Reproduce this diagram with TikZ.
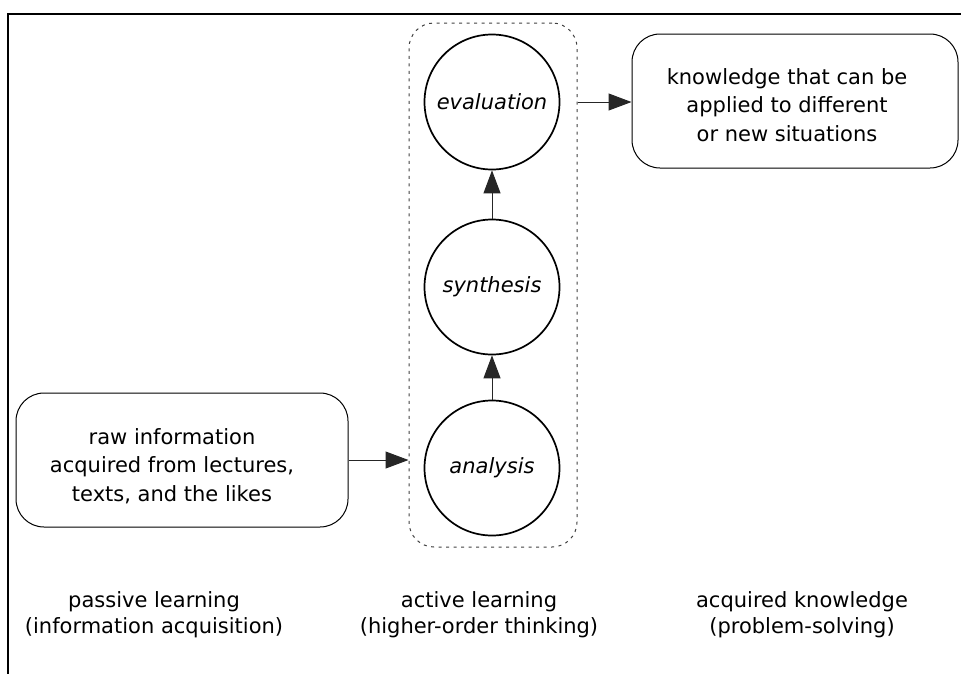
\documentclass[tikz,border=0pt]{standalone}
\usepackage{fontspec}
\setmainfont{DejaVu Sans}
\usetikzlibrary{arrows.meta,shapes.misc}
\tikzset{
  stage/.style={circle, draw, line width=1.7pt, minimum size=135pt, inner sep=0pt,
    font=\fontsize{21}{26}\selectfont\itshape},
  infobox/.style={draw, line width=1pt, rounded corners=28pt},
  boxtext/.style={align=center, inner sep=0pt, font=\fontsize{21}{28.5}\selectfont},
  phase/.style={align=center, inner sep=0pt, font=\fontsize{21}{26}\selectfont},
  group/.style={draw=black!75, line width=1pt, dash pattern=on 3pt off 4.5pt, rounded corners=25pt,
    inner sep=0pt},
  link/.style={line width=1pt, draw=black!85, -{Triangle[length=23pt,width=17pt]}},
}
\begin{document}
\begin{tikzpicture}[x=1pt,y=-1pt]
\useasboundingbox (0,0) rectangle (961,673);
% frame
\draw[line width=2.6pt] (8,675) -- (8,14) -- (963,14);
% active learning group
\node[group, minimum width=168pt, minimum height=524pt] (grp) at (493,285) {};
% stages
\node[stage] (eval) at (492,102) {evaluation};
\node[stage] (syn) at (492,287) {synthesis};
\node[stage] (ana) at (492,468) {analysis};
% boxes
\node[infobox, minimum width=332pt, minimum height=134pt] (raw) at (182,460) {};
\node[boxtext] (rawtext) at (172,466) {raw information\\acquired from lectures,\\texts, and the likes};
\node[infobox, minimum width=326pt, minimum height=134pt] (know) at (795,101) {};
\node[boxtext] (knowtext) at (787,105) {knowledge that can be\\applied to different\\or new situations};
% connectors
\draw[link] (raw.east) -- (raw.east -| grp.west);
\draw[link] (ana.north) -- (syn.south);
\draw[link] (syn.north) -- (eval.south);
\draw[link] (eval.east -| grp.east) -- (eval.east -| know.west);
% phase labels
\node[phase] (passive) at (154,615) {passive learning\\(information acquisition)};
\node[phase] (active) at (479,615) {active learning\\(higher-order thinking)};
\node[phase] (acquired) at (802,615) {acquired knowledge\\(problem-solving)};
\end{tikzpicture}
\end{document}
